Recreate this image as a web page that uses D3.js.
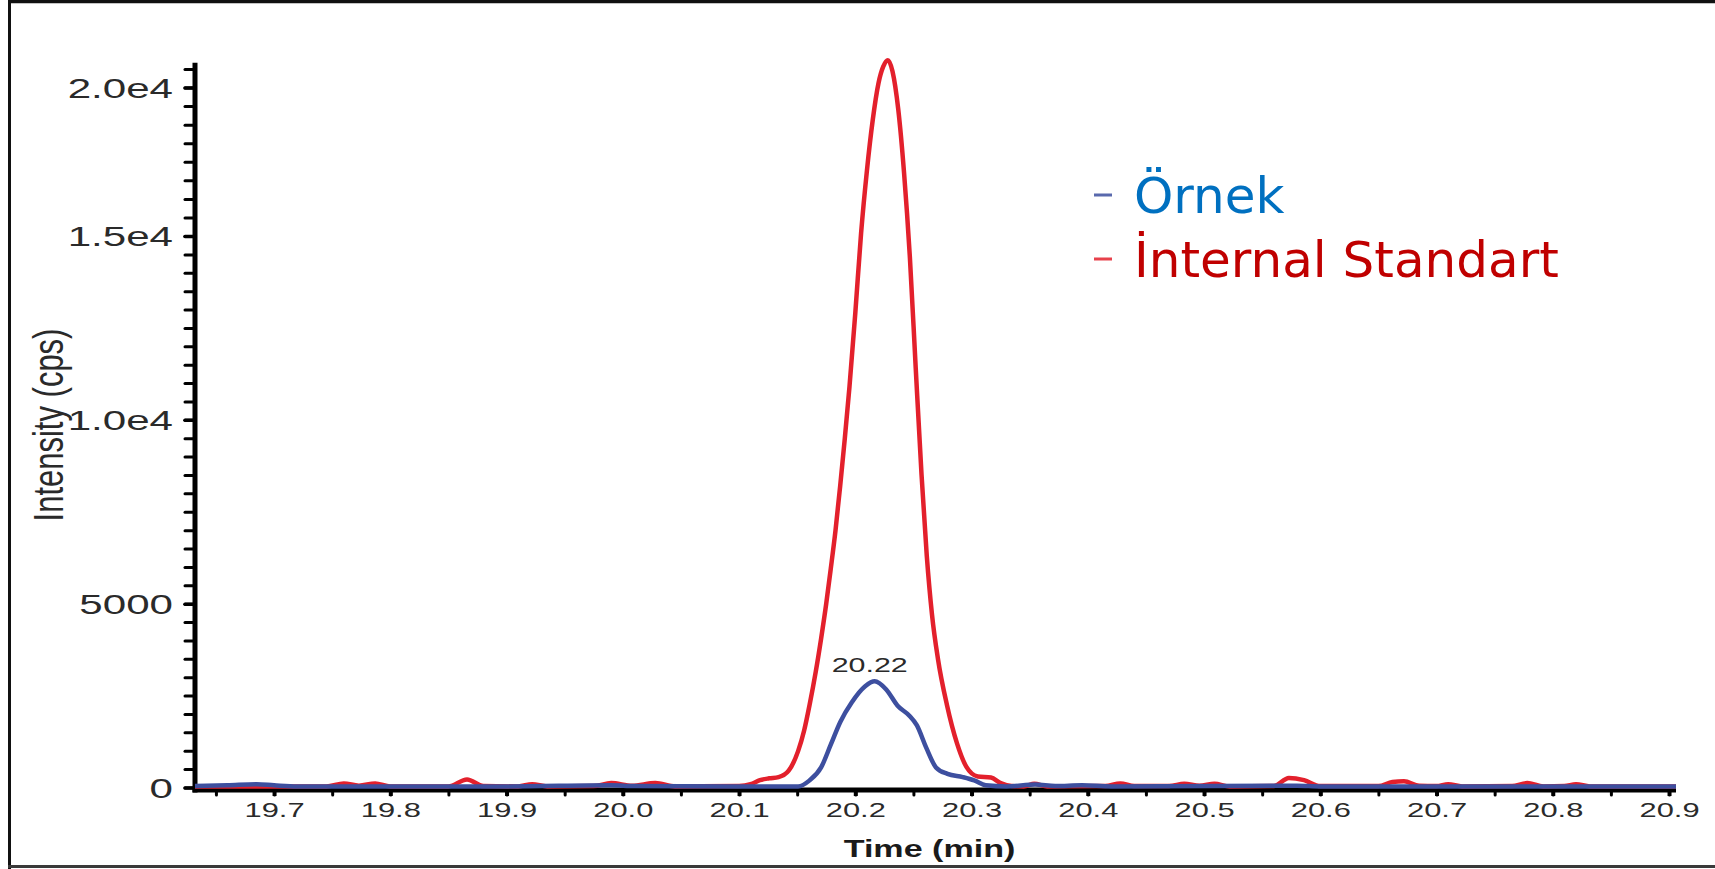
<!DOCTYPE html>
<html><head><meta charset="utf-8">
<script src="https://cdn.jsdelivr.net/npm/d3@7"></script>
<style>body{margin:0;background:#fff;overflow:hidden}</style>
</head><body>
<svg id="c" width="1715" height="869"></svg>
<script>
// ---------- data ----------
const xTickValues = [19.7, 19.8, 19.9, 20.0, 20.1, 20.2, 20.3, 20.4, 20.5, 20.6, 20.7, 20.8, 20.9];
const xTickLabels = ["19.7","19.8","19.9","20.0","20.1","20.2","20.3","20.4","20.5","20.6","20.7","20.8","20.9"];
const yTickValues = [0, 5000, 10000, 15000, 20000];
const yTickLabels = ["0","5000","1.0e4","1.5e4","2.0e4"];
const seriesNames = ["Örnek", "İnternal Standart"];
const xTitle = "Time (min)";
const yTitle = "Intensity (cps)";
const peakLabel = "20.22";

// Örnek (sample) trace
const sampleTime = [19.632,19.660,19.685,19.700,19.720,19.800,19.900,19.990,20.010,20.100,20.1508,20.1607,20.1706,20.1789,20.1871,20.1969,20.2085,20.2167,20.2266,20.2364,20.2463,20.2529,20.2611,20.2694,20.2793,20.2924,20.3023,20.3122,20.330,20.355,20.372,20.395,20.420,20.580,20.600,20.906];
const sampleIntensity = [40,60,90,60,30,30,30,60,40,30,30,194,547,1166,1784,2313,2755,2890,2667,2225,1960,1695,1077,547,371,283,194,62,30,80,40,60,30,50,30,30];

// İnternal Standart trace
const istdTime = [19.632,19.700,19.745,19.760,19.773,19.787,19.800,19.850,19.866,19.880,19.910,19.922,19.935,19.975,19.990,20.008,20.028,20.045,20.100,20.110,20.118,20.126,20.134,20.1427,20.1508,20.156,20.1607,20.166,20.1706,20.175,20.1789,20.183,20.187,20.191,20.195,20.200,20.205,20.210,20.215,20.220,20.224,20.228,20.232,20.237,20.242,20.247,20.252,20.257,20.2615,20.266,20.2711,20.2788,20.2875,20.2956,20.3054,20.3167,20.3251,20.3345,20.345,20.354,20.365,20.415,20.428,20.440,20.470,20.483,20.496,20.509,20.522,20.560,20.573,20.586,20.600,20.650,20.662,20.672,20.685,20.700,20.710,20.722,20.765,20.778,20.792,20.810,20.820,20.832,20.906];
const istdIntensity = [30,30,30,110,50,110,30,30,220,40,30,90,30,40,120,50,120,30,40,90,200,250,283,459,989,1550,2250,3150,4050,5000,5950,7000,8200,9500,10900,12900,15100,17200,18900,20150,20700,20920,20550,19250,17100,14400,11400,8500,6300,4700,3500,2250,1200,560,300,270,120,40,30,100,30,40,110,40,40,100,50,100,30,40,260,200,40,40,150,170,50,40,90,30,40,120,30,40,90,30,30];

// ---------- layout ----------
const svg = d3.select("#c");
const W = 1715, H = 869;
const x = d3.scaleLinear().domain([19.632, 20.906]).range([195, 1676]);
const y = d3.scaleLinear().domain([0, 15000, 20000]).range([787.5, 236, 87.5]);
const yAxisTopValue = 20830;
const yMinor = d3.range(0, 15000, 500).concat(d3.range(15000, 20001, 625), [20625]);
const xMinor = d3.range(19.65, 20.91, 0.05).map(v => +v.toFixed(2));

const blue = "#3d4f9f", red = "#e3202c";
const tickFont = "'Liberation Sans', Arial, sans-serif";

// frame
svg.append("rect").attr("x",0).attr("y",0).attr("width",W).attr("height",H).attr("fill","#fff");
svg.append("line").attr("x1",8).attr("x2",W).attr("y1",1.5).attr("y2",1.5).attr("stroke","#111").attr("stroke-width",3.5);
svg.append("line").attr("x1",9.5).attr("x2",9.5).attr("y1",0).attr("y2",H).attr("stroke","#111").attr("stroke-width",3);
svg.append("line").attr("x1",8).attr("x2",W).attr("y1",866.5).attr("y2",866.5).attr("stroke","#3a3a3a").attr("stroke-width",3);

// ---------- y axis ----------
const yg = svg.append("g").attr("transform","translate(195,0)");
const yMinorG = yg.append("g").call(d3.axisLeft(y).tickValues(yMinor).tickSize(10).tickFormat(""));
yMinorG.select(".domain").remove();
yMinorG.selectAll("line").attr("stroke","#000").attr("stroke-width",3).attr("stroke-linecap","round");
const yMajorG = yg.append("g").call(d3.axisLeft(y).tickValues(yTickValues).tickSize(10)
  .tickFormat((d,i) => yTickLabels[i]));
yMajorG.select(".domain").remove();
yMajorG.selectAll("line").attr("stroke","#000").attr("stroke-width",3.5).attr("stroke-linecap","round");
yMajorG.selectAll("text")
  .attr("x",0).attr("dy","0.36em")
  .attr("transform","translate(-22,0) scale(1.56,1)")
  .attr("font-family",tickFont).attr("font-size",27).attr("fill","#2a2a2a");
yg.append("line").attr("x1",0).attr("x2",0).attr("y1",y(0)+5).attr("y2",y(yAxisTopValue))
  .attr("stroke","#000").attr("stroke-width",5);

// ---------- x axis ----------
const xg = svg.append("g").attr("transform",`translate(0,${y(0)+2.5})`);
const xMinorG = xg.append("g").call(d3.axisBottom(x).tickValues(xMinor).tickSize(5).tickFormat(""));
xMinorG.select(".domain").remove();
xMinorG.selectAll("line").attr("stroke","#000").attr("stroke-width",3).attr("stroke-linecap","round");
const xMajorG = xg.append("g").call(d3.axisBottom(x).tickValues(xTickValues).tickSize(6)
  .tickFormat((d,i) => xTickLabels[i]));
xMajorG.select(".domain").remove();
xMajorG.selectAll("line").attr("stroke","#000").attr("stroke-width",4);
xMajorG.selectAll("text")
  .attr("y",12).attr("dy","0.71em")
  .attr("transform","scale(1.47,1)")
  .attr("font-family",tickFont).attr("font-size",21).attr("fill","#2a2a2a");
xg.append("line").attr("x1",x.range()[0]-2.5).attr("x2",x.range()[1]).attr("y1",0).attr("y2",0)
  .attr("stroke","#000").attr("stroke-width",5);

// titles
svg.append("text").text(xTitle)
  .attr("transform",`translate(${(x.range()[0]+x.range()[1])/2 - 6},857) scale(1.42,1)`)
  .attr("text-anchor","middle").attr("font-family",tickFont).attr("font-weight","bold")
  .attr("font-size",24).attr("fill","#1a1a1a");
svg.append("text").text(yTitle)
  .attr("transform","translate(48,425) scale(1.37,1) rotate(-90)")
  .attr("text-anchor","middle").attr("dy","0.36em").attr("font-family",tickFont)
  .attr("font-size",31).attr("fill","#2a2a2a");

// ---------- series ----------
const line = d3.line().x(d => x(d[0])).y(d => y(d[1])).curve(d3.curveMonotoneX);
const istd = istdTime.map((t,i) => [t, istdIntensity[i]]);
const sample = sampleTime.map((t,i) => [t, sampleIntensity[i]]);
svg.append("path").datum(istd).attr("d",line).attr("fill","none").attr("stroke",red)
  .attr("stroke-width",4.5).attr("stroke-linejoin","round");
svg.append("path").datum(sample).attr("d",line).attr("fill","none").attr("stroke",blue)
  .attr("stroke-width",4.5).attr("stroke-linejoin","round");

// peak annotation
const pk = d3.maxIndex(sampleIntensity);
svg.append("text").text(peakLabel)
  .attr("transform",`translate(${x(sampleTime[pk]) - 5},${y(sampleIntensity[pk]) - 9}) scale(1.45,1)`)
  .attr("text-anchor","middle").attr("font-family",tickFont).attr("font-size",21).attr("fill","#2a2a2a");

// ---------- legend ----------
const legendColors = [blue, red];
const legendTextColors = ["#0070c0", "#c00000"];
const lg = svg.append("g");
seriesNames.forEach((name, i) => {
  const by = 213 + i * 64;
  lg.append("line").attr("x1",1094).attr("x2",1112).attr("y1",by-18).attr("y2",by-18)
    .attr("stroke",legendColors[i]).attr("stroke-width",3).attr("opacity",0.85);
  lg.append("text").text(name).attr("x",1134).attr("y",by)
    .attr("font-family","'DejaVu Sans', sans-serif").attr("font-size",50)
    .attr("fill",legendTextColors[i]);
});
</script>
</body></html>
